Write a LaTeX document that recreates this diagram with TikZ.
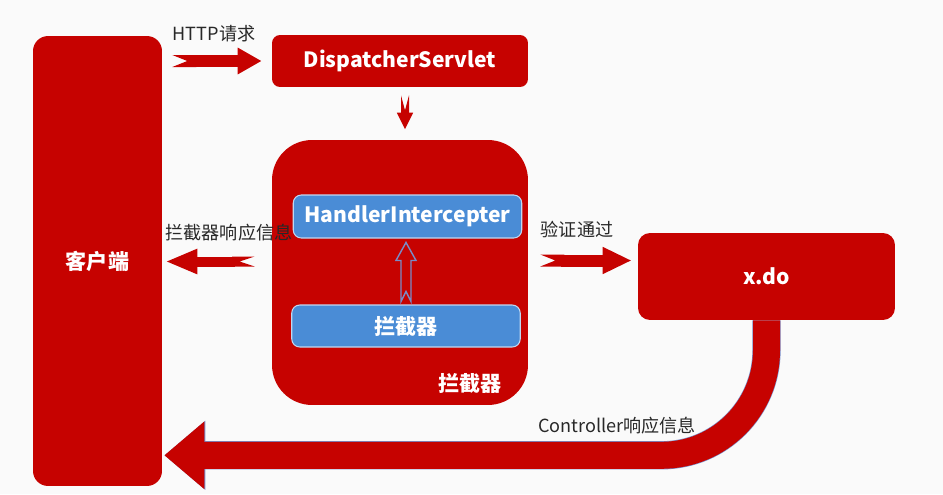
\documentclass[tikz,border=0pt]{standalone}
\usepackage{fontspec}
\setmainfont{Noto Sans CJK SC}
\usetikzlibrary{arrows.meta,calc}
\definecolor{boxred}{RGB}{198,2,0}
\definecolor{boxblue}{RGB}{74,140,214}
\definecolor{edgeblue}{RGB}{120,140,200}
\definecolor{paper}{RGB}{250,250,250}
\definecolor{labelgray}{RGB}{40,40,40}

\begin{document}
\begin{tikzpicture}[x=0.02cm, y=-0.02cm, font=\fontsize{10.3}{12}\selectfont]
	\tikzset{box/.style={fill=boxred, text=white, inner sep=0pt, font=\fontsize{12}{14}\selectfont\bfseries},
		inbox/.style={fill=boxblue, draw=white!65!boxblue, line width=0.6pt, rounded corners=0.16cm, text=white, inner sep=0pt, minimum width=4.57cm, font=\fontsize{12}{14}\selectfont\bfseries},
		lbl/.style={text=labelgray, inner sep=0pt},
		redarrow/.style n args={3}{draw=boxred, line width=#1, arrows={Triangle Cap[reversed,length=0.3cm]-Triangle[length=#2,width=#3]}}}
	\fill[paper] (0,0) rectangle (943,494);
	\useasboundingbox (0,0) rectangle (943,494);
	% boxes
	\node[box, rounded corners=0.3cm, minimum width=2.58cm, minimum height=9cm] (cli) at (97.5,261) {客户端};
	\node[box, rounded corners=0.16cm, minimum width=5.12cm, minimum height=1.04cm] (disp) at (400,61) {DispatcherServlet};
	\node[box, rounded corners=0.8cm, minimum width=5.12cm, minimum height=5.3cm] (big) at (400,272.5) {};
	\node[inbox, minimum height=0.86cm] (hi) at (407.5,216.5) {HandlerIntercepter};
	\node[inbox, minimum height=0.84cm] (lo) at (406,326) {拦截器};
	\node[box, text=white] (biglbl) at (470,383) {拦截器};
	\node[box, rounded corners=0.24cm, minimum width=5.14cm, minimum height=1.74cm] (xdo) at (766.5,276.5) {x.do};
	% labels
	\node[lbl] (lhttp) at (214,34) {HTTP请求};
	\node[lbl] (lback) at (229,233) {拦截器响应信息};
	\node[lbl] (lpass) at (577,229) {验证通过};
	\node[lbl] (lctrl) at (617,426) {Controller响应信息};
	% arrows
	\path ($(big.west)+(0,-11)$) coordinate (lb) ($(big.east)+(0,-12)$) coordinate (rb);
	\path ($(cli.south east)+(2,-31)$) coordinate (ret);
	\draw[redarrow={0.24cm}{0.48cm}{0.5cm}, shorten <=0.2cm, shorten >=0.2cm] (cli.east |- disp.west) -- (disp.west);
	\draw[redarrow={0.16cm}{0.34cm}{0.3cm}, shorten <=0.16cm, shorten >=0.2cm] ($(disp.south)+(5,0)$) -- ($(big.north)+(5,0)$);
	\draw[redarrow={0.2cm}{0.64cm}{0.46cm}, shorten <=0.34cm, shorten >=0.06cm] (lb) -- (cli.east |- lb);
	\draw[redarrow={0.24cm}{0.58cm}{0.5cm}, shorten <=0.24cm, shorten >=0.12cm] (rb) -- (xdo.west |- rb);
	\draw[edgeblue, fill=boxred, line width=0.8pt] ($(lo.north)+(0,-13)$) -- ($(lo.north)+(5,-3)$) -- ($(lo.north)+(5,-44)$) -- ($(lo.north)+(10,-44)$) -- ($(lo.north)+(0,-62)$) -- ($(lo.north)+(-10,-44)$) -- ($(lo.north)+(-5,-44)$) -- ($(lo.north)+(-5,-3)$) -- cycle;
	\draw[edgeblue, line width=0.565cm, rounded corners=2.1cm, -{Triangle[length=0.82cm,width=1.33cm]}] (xdo.south) |- (ret);
	\draw[boxred, line width=0.54cm, rounded corners=2.1cm, -{Triangle[length=0.8cm,width=1.3cm]}] (xdo.south) |- (ret);
\end{tikzpicture}
\end{document}
